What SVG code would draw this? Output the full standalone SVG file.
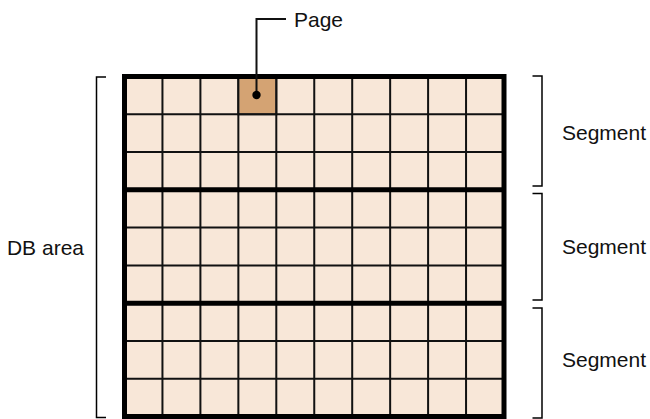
<svg xmlns="http://www.w3.org/2000/svg" width="650" height="419" viewBox="0 0 650 419">
<style>
.cell{fill:#F8E7D8}
.page{fill:#D4A373}
.thin{stroke:#111;stroke-width:2;fill:none}
.thick{stroke:#000;stroke-width:5;fill:none}
.br{stroke:#000;stroke-width:1.5;fill:none}
.lbl{font-family:"Liberation Sans",Arial,sans-serif;font-size:21px;fill:#111}
</style>
<defs>
<g id="seggrid">
<rect class="cell" x="124.5" y="0" width="379.5" height="113.33"/>
<path class="thin" d="M162.45 0V113.33M200.4 0V113.33M238.35 0V113.33M276.3 0V113.33M314.25 0V113.33M352.2 0V113.33M390.15 0V113.33M428.1 0V113.33M466.05 0V113.33M124.5 37.78H504M124.5 75.56H504"/>
</g>
</defs>
<g id="segment1"><use href="#seggrid" transform="translate(0,76.5)"/></g>
<g id="segment2"><use href="#seggrid" transform="translate(0,189.83)"/></g>
<g id="segment3"><use href="#seggrid" transform="translate(0,303.17)"/></g>
<g id="page">
<rect class="page" x="239.35" y="77.5" width="35.95" height="35.78"/>
<path class="thin" d="M238.35 76.5V114.28H276.3V76.5"/>
</g>
<g id="borders">
<rect class="thick" x="124.5" y="76.5" width="379.5" height="340"/>
<path class="thick" d="M124.5 189.83H504M124.5 303.17H504"/>
</g>
<g id="connectors">
<path class="thin" d="M256.5 95V19H286"/>
<circle cx="256.5" cy="95" r="4.2" fill="#000"/>
</g>
<g id="dbarea">
<path class="br" d="M106 77H96.5V417.5H106"/>
<text class="lbl" x="84" y="255" text-anchor="end">DB area</text>
</g>
<g id="seglabel1">
<path class="br" d="M532.5 76H542V186H532.5"/>
<text class="lbl" x="562" y="140">Segment</text>
</g>
<g id="seglabel2">
<path class="br" d="M532.5 193.5H542V300H532.5"/>
<text class="lbl" x="562" y="254">Segment</text>
</g>
<g id="seglabel3">
<path class="br" d="M532.5 308H542V418H532.5"/>
<text class="lbl" x="562" y="367">Segment</text>
</g>
<g id="pagelabel">
<text class="lbl" x="294" y="27">Page</text>
</g>
</svg>
